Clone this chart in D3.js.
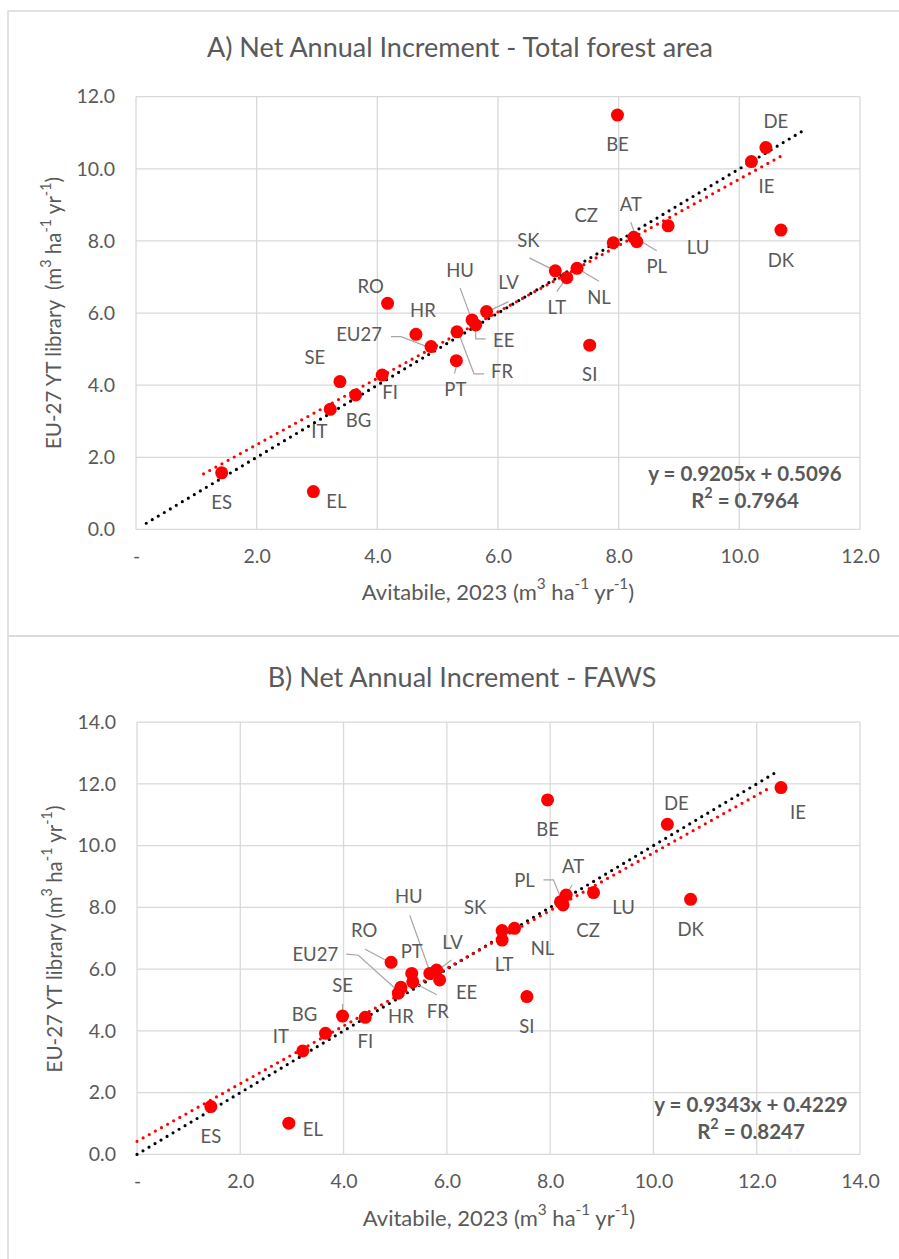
<!DOCTYPE html>
<html>
<head>
<meta charset="utf-8">
<script src="https://cdn.jsdelivr.net/npm/d3@7"></script>
<style>
  body { margin: 0; background: #fff; }
  svg text { font-family: Lato, "Open Sans", sans-serif; fill: #595959; }
</style>
</head>
<body>
<svg id="chart" width="899" height="1259"></svg>
<script>
// data
var codesA = ["ES", "EL", "IT", "SE", "BG", "FI", "RO", "HR", "EU27", "PT", "FR", "HU", "EE", "LV",
    "SK", "LT", "NL", "SI", "CZ", "BE", "AT", "PL", "LU", "IE", "DE", "DK"]
var avitabileA = [1.42, 2.94, 3.22, 3.38, 3.64, 4.08, 4.17, 4.64, 4.89, 5.31, 5.32, 5.57, 5.63, 5.81,
    6.95, 7.14, 7.31, 7.52, 7.91, 7.98, 8.25, 8.30, 8.82, 10.20, 10.44, 10.69]
var libraryA = [1.57, 1.05, 3.33, 4.10, 3.73, 4.28, 6.27, 5.41, 5.07, 4.68, 5.48, 5.81, 5.67, 6.04,
    7.17, 6.98, 7.24, 5.11, 7.95, 11.49, 8.10, 7.98, 8.42, 10.20, 10.59, 8.30]

var codesB = ["ES", "EL", "IT", "BG", "SE", "FI", "RO", "EU27", "HR", "PT", "FR", "HU", "LV", "EE",
    "SK", "LT", "NL", "SI", "BE", "PL", "CZ", "AT", "LU", "DE", "DK", "IE"]
var avitabileB = [1.43, 2.94, 3.21, 3.65, 3.98, 4.42, 4.92, 5.06, 5.11, 5.32, 5.34, 5.67, 5.80, 5.86,
    7.07, 7.07, 7.31, 7.55, 7.95, 8.20, 8.25, 8.31, 8.84, 10.27, 10.72, 12.47]
var libraryB = [1.55, 1.01, 3.35, 3.92, 4.48, 4.44, 6.22, 5.22, 5.41, 5.86, 5.59, 5.86, 5.97, 5.65,
    7.25, 6.94, 7.32, 5.11, 11.48, 8.18, 8.08, 8.40, 8.48, 10.69, 8.26, 11.88]

var fitA = [0.9205, 0.5096], r2A = "0.7964", fitRangeA = [1.12, 10.69], oneToOneA = [0.17, 11.1]
var fitB = [0.9343, 0.4229], r2B = "0.8247", fitRangeB = [0, 12.3], oneToOneB = [0, 12.4]

var xTicksA = [0, 2, 4, 6, 8, 10, 12], yTicksA = [0, 2, 4, 6, 8, 10, 12]
var xTicksB = [0, 2, 4, 6, 8, 10, 12, 14], yTicksB = [0, 2, 4, 6, 8, 10, 12, 14]

// label placement (pixel offsets from the point), leaders as offset polylines
var labelsA = {
    ES: [0, 32], EL: [23, 12], IT: [-11, 24], SE: [-25, -22], BG: [3, 27], FI: [8, 19],
    RO: [-17, -15], HR: [7, -22],
    EU27: [-72, -10, [[-40, -10], [-30, -10], [-4, 0]]],
    PT: [-1, 31, [[0, 6], [-2, 13]]],
    FR: [45, 42, [[3, 5], [17, 42], [27, 42]]],
    HU: [-12, -48, [[-12, -32], [-1, -2]]],
    EE: [28, 17, [[0, 2], [0, 14], [10, 14]]],
    LV: [22, -27, [[22, -10], [3, -1]]],
    SK: [-27, -29, [[-26, -13], [0, 0]]],
    LT: [-10, 32, [[-10, 14], [0, 0]]],
    NL: [22, 31, [[22, 13], [0, 0]]],
    SI: [0, 31], CZ: [-27, -25], BE: [0, 31],
    AT: [-3, -31, [[-3, -15], [1, -4]]],
    PL: [20, 27, [[20, 9], [0, -3]]],
    LU: [30, 24], IE: [15, 27], DE: [10, -24], DK: [0, 32]
}
var labelsB = {
    ES: [0, 32], EL: [24, 8], IT: [-22, -13], BG: [-21, -17],
    SE: [0, -29, [[0, -12], [0, -5]]],
    FI: [0, 26],
    RO: [-27, -30, [[-26, -13], [-5, -2]]],
    EU27: [-83, -37, [[-52, -39], [-40, -38], [0, -2]]],
    HR: [0, 31], PT: [0, -20],
    FR: [25, 32, [[24, 13], [1, 1]]],
    HU: [-21, -75, [[-20, -58], [0, -2]]],
    LV: [16, -26, [[15, -10], [3, -1]]],
    EE: [27, 14], SK: [-27, -21], LT: [2, 26], NL: [28, 22], SI: [0, 32], BE: [0, 31],
    PL: [-36, -20, [[-17, -22], [-7, -22], [1, -2]]],
    CZ: [25, 27],
    AT: [7, -27, [[6, -10], [0, 0]]],
    LU: [30, 17], DE: [9, -19], IE: [17, 27], DK: [0, 32]
}

var svg = d3.select("svg#chart")
var grid_color = "#d9d9d9"

function unitText(sel, prefix) {
    sel.append("tspan").text(prefix + "m")
    sel.append("tspan").attr("baseline-shift", "super").style("font-size", "70%").text("3")
    sel.append("tspan").text(" ha")
    sel.append("tspan").attr("baseline-shift", "super").style("font-size", "70%").text("-1")
    sel.append("tspan").text(" yr")
    sel.append("tspan").attr("baseline-shift", "super").style("font-size", "70%").text("-1")
    sel.append("tspan").text(")")
}

function drawPanel(p) {
    var g = svg.append("g")

    g.append("rect")
        .attr("x", p.box[0]).attr("y", p.box[1])
        .attr("width", p.box[2]).attr("height", p.box[3])
        .attr("fill", "none").attr("stroke", grid_color).attr("stroke-width", 1.5)

    var x = d3.scaleLinear().domain([0, d3.max(p.xTicks)]).range(p.xRange)
    var y = d3.scaleLinear().domain([0, d3.max(p.yTicks)]).range(p.yRange)

    // grid
    g.append("g").selectAll("line").data(p.xTicks).join("line")
        .attr("x1", d => x(d)).attr("x2", d => x(d))
        .attr("y1", p.yRange[0]).attr("y2", p.yRange[1])
        .attr("stroke", grid_color).attr("stroke-width", 1.3)
    g.append("g").selectAll("line").data(p.yTicks).join("line")
        .attr("y1", d => y(d)).attr("y2", d => y(d))
        .attr("x1", p.xRange[0]).attr("x2", p.xRange[1])
        .attr("stroke", grid_color).attr("stroke-width", 1.3)

    // axes (labels only)
    g.append("g").attr("transform", "translate(0," + p.yRange[0] + ")")
        .call(d3.axisBottom(x).tickValues(p.xTicks).tickSize(0).tickPadding(20)
            .tickFormat(d => d === 0 ? "-" : d.toFixed(1)))
    g.append("g").attr("transform", "translate(" + p.xRange[0] + ",0)")
        .call(d3.axisLeft(y).tickValues(p.yTicks).tickSize(0).tickPadding(21)
            .tickFormat(d => d.toFixed(1)))
    g.selectAll(".domain").remove()
    g.selectAll(".tick text").attr("fill", "#595959").style("font-size", "19.5px")
        .style("font-family", "Lato, sans-serif")

    // titles
    g.append("text").attr("x", p.title[0]).attr("y", p.title[1])
        .attr("text-anchor", "middle").attr("dominant-baseline", "middle")
        .style("font-size", "27px").text(p.titleText)

    var xt = g.append("text").attr("x", p.xTitle[0]).attr("y", p.xTitle[1])
        .attr("text-anchor", "middle").attr("dominant-baseline", "middle")
        .style("font-size", "22px")
    unitText(xt, "Avitabile, 2023 (")

    var yt = g.append("text")
        .attr("transform", "translate(" + p.yTitle[0] + "," + p.yTitle[1] + ") rotate(-90)")
        .attr("text-anchor", "middle").attr("dominant-baseline", "middle")
        .style("font-size", "20.5px").style("white-space", "pre")
    unitText(yt, p.yTitlePrefix)

    // trend lines
    var line = d3.line().x(d => x(d[0])).y(d => y(d[1]))
    var fitPts = p.fitRange.map(v => [v, p.fit[0] * v + p.fit[1]])
    var onePts = p.oneToOne.map(v => [v, v])
    g.append("path").attr("d", line(onePts))
        .attr("stroke", "#000").attr("stroke-width", 3.2).attr("fill", "none")
        .attr("stroke-linecap", "round").attr("stroke-dasharray", "0 7")
    g.append("path").attr("d", line(fitPts))
        .attr("stroke", "#ff0000").attr("stroke-width", 3.2).attr("fill", "none")
        .attr("stroke-linecap", "round").attr("stroke-dasharray", "0 7")

    var pts = p.codes.map((c, i) => ({ code: c, x: p.xs[i], y: p.ys[i], lab: p.labels[c] }))

    // leader lines
    g.append("g").selectAll("path").data(pts.filter(d => d.lab[2])).join("path")
        .attr("d", d => "M" + d.lab[2].map(o => [x(d.x) + o[0], y(d.y) + o[1]].join(",")).join("L"))
        .attr("fill", "none").attr("stroke", "#a6a6a6").attr("stroke-width", 1.2)

    // points
    g.append("g").selectAll("circle").data(pts).join("circle")
        .attr("cx", d => x(d.x)).attr("cy", d => y(d.y)).attr("r", 6.5)
        .attr("fill", "#ff0000")

    // data labels
    g.append("g").selectAll("text").data(pts).join("text")
        .attr("x", d => x(d.x) + d.lab[0]).attr("y", d => y(d.y) + d.lab[1])
        .attr("text-anchor", "middle").attr("dominant-baseline", "middle")
        .style("font-size", "18.5px").text(d => d.code)

    // equation
    g.append("text").attr("x", p.eq[0]).attr("y", p.eq[1])
        .attr("text-anchor", "middle").attr("dominant-baseline", "middle")
        .style("font-size", "20.5px").style("font-weight", "bold")
        .text("y = " + p.fit[0] + "x + " + p.fit[1])
    var r = g.append("text").attr("x", p.eq[0]).attr("y", p.eq[2])
        .attr("text-anchor", "middle").attr("dominant-baseline", "middle")
        .style("font-size", "20.5px").style("font-weight", "bold")
    r.append("tspan").text("R")
    r.append("tspan").attr("baseline-shift", "super").style("font-size", "70%").text("2")
    r.append("tspan").text(" = " + p.r2)
}

drawPanel({
    box: [8, 11, 910, 625],
    xRange: [136, 860], yRange: [529.4, 96.7],
    xTicks: xTicksA, yTicks: yTicksA,
    title: [460, 50], titleText: "A) Net Annual Increment - Total forest area",
    xTitle: [498, 594], yTitle: [56, 313], yTitlePrefix: "EU-27 YT library  (",
    codes: codesA, xs: avitabileA, ys: libraryA, labels: labelsA,
    fit: fitA, r2: r2A, fitRange: fitRangeA, oneToOne: oneToOneA,
    eq: [745, 476, 503]
})

drawPanel({
    box: [8, 636, 910, 640],
    xRange: [137, 860], yRange: [1154.4, 722.1],
    xTicks: xTicksB, yTicks: yTicksB,
    title: [462, 680], titleText: "B) Net Annual Increment - FAWS",
    xTitle: [499, 1220], yTitle: [57, 939], yTitlePrefix: "EU-27 YT library (",
    codes: codesB, xs: avitabileB, ys: libraryB, labels: labelsB,
    fit: fitB, r2: r2B, fitRange: fitRangeB, oneToOne: oneToOneB,
    eq: [751, 1107, 1134]
})
</script>
</body>
</html>
